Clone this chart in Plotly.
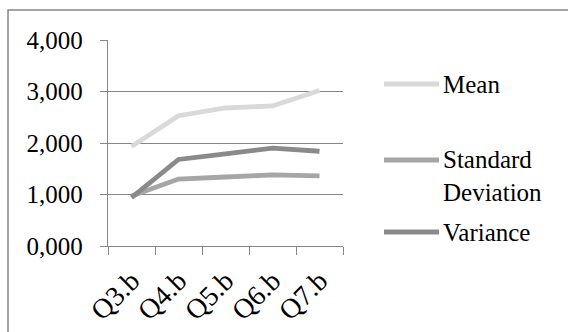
import plotly.graph_objects as go

# Survey items and summary statistics per item
categories = ["Q3.b", "Q4.b", "Q5.b", "Q6.b", "Q7.b"]
mean_values = [1.93, 2.53, 2.68, 2.72, 3.02]
std_values = [0.97, 1.30, 1.34, 1.38, 1.36]
variance_values = [0.94, 1.68, 1.79, 1.90, 1.84]

series_names = ["Mean", "Standard<br>Deviation", "Variance"]
series_colors = ["#d9d9d9", "#a6a6a6", "#8a8a8a"]
y_ticks = [0, 1, 2, 3, 4]

W, H = 568, 332
# plot area in pixels
PL, PR, PT, PB = 108, 343, 40, 246

FONT = "Liberation Serif"
GRID = "#868686"


def px_x(x):
    return (x - PL) / (PR - PL)


def px_y(y):
    return (PB - y) / (PB - PT)


fig = go.Figure()
for name, vals, col in zip(series_names, [mean_values, std_values, variance_values], series_colors):
    fig.add_trace(go.Scatter(
        x=categories, y=vals, mode="lines", name=name.replace("<br>", " "),
        line=dict(color=col, width=4.8), showlegend=False,
    ))

# outer chart border
fig.add_shape(type="rect", xref="paper", yref="paper",
              x0=px_x(8), x1=px_x(575), y0=px_y(10), y1=px_y(345),
              line=dict(color=GRID, width=1.5), fillcolor="rgba(0,0,0,0)", layer="below")

# legend: swatch line + label
legend_rows = [84, 160, 232]
for name, col, ly in zip(series_names, series_colors, legend_rows):
    fig.add_shape(type="line", xref="paper", yref="paper",
                  x0=px_x(384), x1=px_x(439), y0=px_y(ly), y1=px_y(ly),
                  line=dict(color=col, width=4.8))
    two_lines = "<br>" in name
    fig.add_annotation(
        xref="paper", yref="paper", x=px_x(441), y=px_y(ly + (16 if two_lines else 0)),
        text=name, showarrow=False, xanchor="left", yanchor="middle", align="left",
        font=dict(family=FONT, size=25, color="#000000"),
    )

fig.update_layout(
    width=W, height=H,
    margin=dict(l=PL, r=W - PR, t=PT, b=H - PB, pad=0, autoexpand=False),
    paper_bgcolor="white", plot_bgcolor="white",
    separators=",.",
    font=dict(family=FONT, size=25, color="#000000"),
)
fig.update_xaxes(
    type="category", tickson="boundaries", ticks="outside", ticklen=8, tickcolor=GRID,
    showline=True, linecolor=GRID, linewidth=1.3, showgrid=False, tickangle=-45,
    tickfont=dict(family=FONT, size=28), ticklabelstandoff=6,
    range=[-0.5, 4.5], automargin=False,
)
fig.update_yaxes(
    range=[0, 4], tickvals=y_ticks, tickformat=".3f", ticks="outside", ticklen=7,
    tickcolor=GRID, showline=True, linecolor=GRID, linewidth=1.3,
    showgrid=True, gridcolor=GRID, gridwidth=1.3, zeroline=False,
    tickfont=dict(family=FONT, size=25), ticklabelstandoff=12, automargin=False,
)

fig.write_html("out.html")
